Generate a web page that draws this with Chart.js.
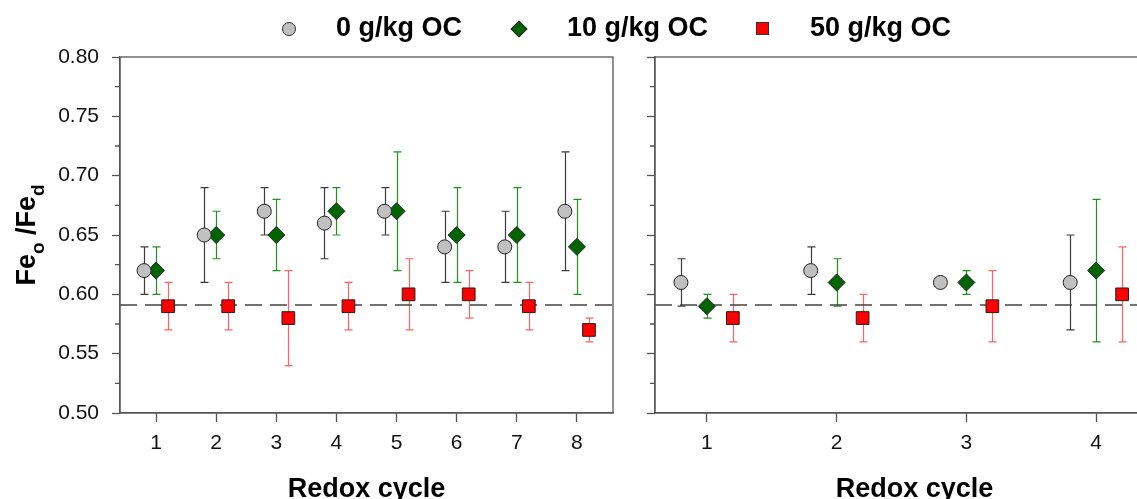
<!DOCTYPE html>
<html><head><meta charset="utf-8">
<script src="https://cdn.jsdelivr.net/npm/chart.js@4/dist/chart.umd.min.js"></script>
<style>
html,body{margin:0;padding:0;background:#fff;overflow:hidden;width:1137px;height:499px;}
#wrap{position:relative;width:1137px;height:499px;overflow:hidden;background:#fff;}
.cv{position:absolute;top:0;}
.leg{position:absolute;top:14px;font:bold 27px "Liberation Sans",Arial,sans-serif;line-height:27px;color:#000;white-space:nowrap;}
.mk{position:absolute;box-sizing:border-box;}
</style></head>
<body><div id="wrap">
<canvas id="left" class="cv" width="640" height="520" style="left:0;width:640px;height:520px"></canvas>
<canvas id="right" class="cv" width="560" height="520" style="left:640px;width:560px;height:520px"></canvas>
<div class="mk" style="left:281.5px;top:21.5px;width:14px;height:14px;border-radius:50%;background:#c0c0c0;border:1px solid #333;"></div>
<div class="leg" style="left:336px;">0 g/kg OC</div>
<div class="mk" style="left:513px;top:22.5px;width:12px;height:12px;transform:rotate(45deg);background:#006400;border:1px solid #222;"></div>
<div class="leg" style="left:567px;">10 g/kg OC</div>
<div class="mk" style="left:755.5px;top:22px;width:13px;height:13px;background:#ff0000;border:1px solid #333;"></div>
<div class="leg" style="left:810px;">50 g/kg OC</div>
</div>
<script>
// ---- data: left panel (8 redox cycles) ----
const cyclesA = [1, 2, 3, 4, 5, 6, 7, 8];
const oc0A    = [0.62, 0.65, 0.67, 0.66, 0.67, 0.64, 0.64, 0.67];
const oc0A_lo = [0.60, 0.61, 0.65, 0.63, 0.65, 0.61, 0.61, 0.62];
const oc0A_hi = [0.64, 0.69, 0.69, 0.69, 0.69, 0.67, 0.67, 0.72];
const oc10A    = [0.62, 0.65, 0.65, 0.67, 0.67, 0.65, 0.65, 0.64];
const oc10A_lo = [0.60, 0.63, 0.62, 0.65, 0.62, 0.61, 0.61, 0.60];
const oc10A_hi = [0.64, 0.67, 0.68, 0.69, 0.72, 0.69, 0.69, 0.68];
const oc50A    = [0.59, 0.59, 0.58, 0.59, 0.60, 0.60, 0.59, 0.57];
const oc50A_lo = [0.57, 0.57, 0.54, 0.57, 0.57, 0.58, 0.57, 0.56];
const oc50A_hi = [0.61, 0.61, 0.62, 0.61, 0.63, 0.62, 0.61, 0.58];
// ---- data: right panel (4 redox cycles) ----
const cyclesB = [1, 2, 3, 4];
const oc0B    = [0.61, 0.62, 0.61, 0.61];
const oc0B_lo = [0.59, 0.60, null, 0.57];
const oc0B_hi = [0.63, 0.64, null, 0.65];
const oc10B    = [0.59, 0.61, 0.61, 0.62];
const oc10B_lo = [0.58, 0.59, 0.60, 0.56];
const oc10B_hi = [0.60, 0.63, 0.62, 0.68];
const oc50B    = [0.58, 0.58, 0.59, 0.60];
const oc50B_lo = [0.56, 0.56, 0.56, 0.56];
const oc50B_hi = [0.60, 0.60, 0.62, 0.64];
const referenceLine = 0.591;
const yTicks = [0.50, 0.55, 0.60, 0.65, 0.70, 0.75, 0.80];
const yMinorTicks = [0.525, 0.575, 0.625, 0.675, 0.725, 0.775];
const seriesNames = ['0 g/kg OC', '10 g/kg OC', '50 g/kg OC'];

const FONT = '"Liberation Sans", Arial, sans-serif';
const AXIS = '#555';

const errBars = {
  id: 'errBars',
  beforeDatasetsDraw(chart) {
    const ctx = chart.ctx, xs = chart.scales.x, ys = chart.scales.y;
    chart.data.datasets.forEach(ds => {
      if (!ds.errLo) return;
      ctx.save();
      ctx.strokeStyle = ds.errColor;
      ctx.lineWidth = 1.2;
      ds.data.forEach((p, i) => {
        const lo = ds.errLo[i], hi = ds.errHi[i];
        if (lo == null || hi == null) return;
        const x = Math.round(xs.getPixelForValue(p.x)) + 0.5;
        const y1 = ys.getPixelForValue(lo), y2 = ys.getPixelForValue(hi);
        ctx.beginPath();
        ctx.moveTo(x, y1); ctx.lineTo(x, y2);
        ctx.moveTo(x - 4, y1); ctx.lineTo(x + 4, y1);
        ctx.moveTo(x - 4, y2); ctx.lineTo(x + 4, y2);
        ctx.stroke();
      });
      ctx.restore();
    });
  }
};

const frame = {
  id: 'frame',
  afterDraw(chart) {
    const { ctx, chartArea: a } = chart;
    const ys = chart.scales.y;
    ctx.save();
    ctx.strokeStyle = AXIS;
    ctx.lineWidth = 1.3;
    ctx.strokeRect(a.left, a.top, a.right - a.left, a.bottom - a.top);
    ctx.beginPath();
    yMinorTicks.forEach(v => {
      const y = ys.getPixelForValue(v);
      ctx.moveTo(a.left - 5, y); ctx.lineTo(a.left, y);
    });
    ctx.stroke();
    ctx.restore();
  }
};

const yTitle = {
  id: 'yTitle',
  afterDraw(chart) {
    const ctx = chart.ctx;
    const parts = [
      { t: 'Fe', s: 27, dy: 0 },
      { t: 'o', s: 19, dy: 9 },
      { t: ' /Fe', s: 27, dy: 0 },
      { t: 'd', s: 19, dy: 9 }
    ];
    ctx.save();
    let total = 0;
    parts.forEach(p => { ctx.font = 'bold ' + p.s + 'px ' + FONT; p.w = ctx.measureText(p.t).width; total += p.w; });
    ctx.translate(35, 235);
    ctx.rotate(-Math.PI / 2);
    ctx.fillStyle = '#000';
    ctx.textBaseline = 'alphabetic';
    let x = -total / 2;
    parts.forEach(p => { ctx.font = 'bold ' + p.s + 'px ' + FONT; ctx.fillText(p.t, x, p.dy); x += p.w; });
    ctx.restore();
  }
};

function makeChart(id, cycles, vals, los, his, xmin, xmax, yWidth, padRight, showY, extraPlugins) {
  const offsets = [-0.2, 0, 0.2];
  const styles = [
    { pointStyle: 'circle', radius: 7, bg: '#c0c0c0', err: '#3c3c3c' },
    { pointStyle: 'rectRot', radius: 8.5, bg: '#006400', err: '#229122' },
    { pointStyle: 'rect', radius: 9, bg: '#ff0000', err: '#ff6262' }
  ];
  const datasets = vals.map((v, k) => ({
    type: 'scatter',
    label: seriesNames[k],
    data: cycles.map((c, i) => ({ x: c + offsets[k], y: v[i] })),
    errLo: los[k], errHi: his[k], errColor: styles[k].err,
    pointStyle: styles[k].pointStyle,
    pointRadius: styles[k].radius,
    pointBackgroundColor: styles[k].bg,
    pointBorderColor: '#222',
    pointBorderWidth: 1,
    order: 0
  }));
  datasets.push({
    type: 'line',
    label: 'ref',
    data: [{ x: xmin, y: referenceLine }, { x: xmax, y: referenceLine }],
    borderColor: '#444', borderWidth: 1.5, borderDash: [17, 8],
    pointRadius: 0, fill: false, order: 5
  });
  return new Chart(document.getElementById(id), {
    type: 'scatter',
    data: { datasets },
    options: {
      responsive: false, animation: false, devicePixelRatio: 1,
      layout: { padding: { left: 0, right: padRight, top: 57, bottom: 0 } },
      plugins: { legend: { display: false }, tooltip: { enabled: false } },
      scales: {
        x: {
          type: 'linear', min: xmin, max: xmax,
          afterBuildTicks: s => { s.ticks = cycles.map(v => ({ value: v })); },
          afterFit: s => { s.height = 107; },
          grid: { drawOnChartArea: false, drawTicks: true, tickLength: 9, tickColor: AXIS, tickWidth: 1.3 },
          border: { display: true, color: AXIS, width: 1.3 },
          ticks: { font: { family: FONT, size: 21 }, color: '#111', padding: 9, maxRotation: 0, autoSkip: false, callback: v => String(v) },
          title: { display: true, text: 'Redox cycle', color: '#000', font: { family: FONT, size: 27, weight: 'bold' }, padding: { top: 0, bottom: 14 } }
        },
        y: {
          type: 'linear', min: 0.5, max: 0.8,
          afterBuildTicks: s => { s.ticks = yTicks.map(v => ({ value: v })); },
          afterFit: s => { s.width = yWidth; },
          grid: { drawOnChartArea: false, drawTicks: true, tickLength: 8, tickColor: AXIS, tickWidth: 1.3 },
          border: { display: true, color: AXIS, width: 1.3 },
          ticks: { font: { family: FONT, size: 21 }, color: '#111', padding: 13, autoSkip: false, callback: v => showY ? v.toFixed(2) : '' }
        }
      }
    },
    plugins: [errBars, frame].concat(extraPlugins)
  });
}

makeChart('left', cyclesA,
  [oc0A, oc10A, oc50A], [oc0A_lo, oc10A_lo, oc50A_lo], [oc0A_hi, oc10A_hi, oc50A_hi],
  0.4, 8.6, 120, 27, true, [yTitle]);
makeChart('right', cyclesB,
  [oc0B, oc10B, oc50B], [oc0B_lo, oc10B_lo, oc50B_lo], [oc0B_hi, oc10B_hi, oc50B_hi],
  0.6, 4.6, 15, 26, false, []);
</script>
</body></html>
